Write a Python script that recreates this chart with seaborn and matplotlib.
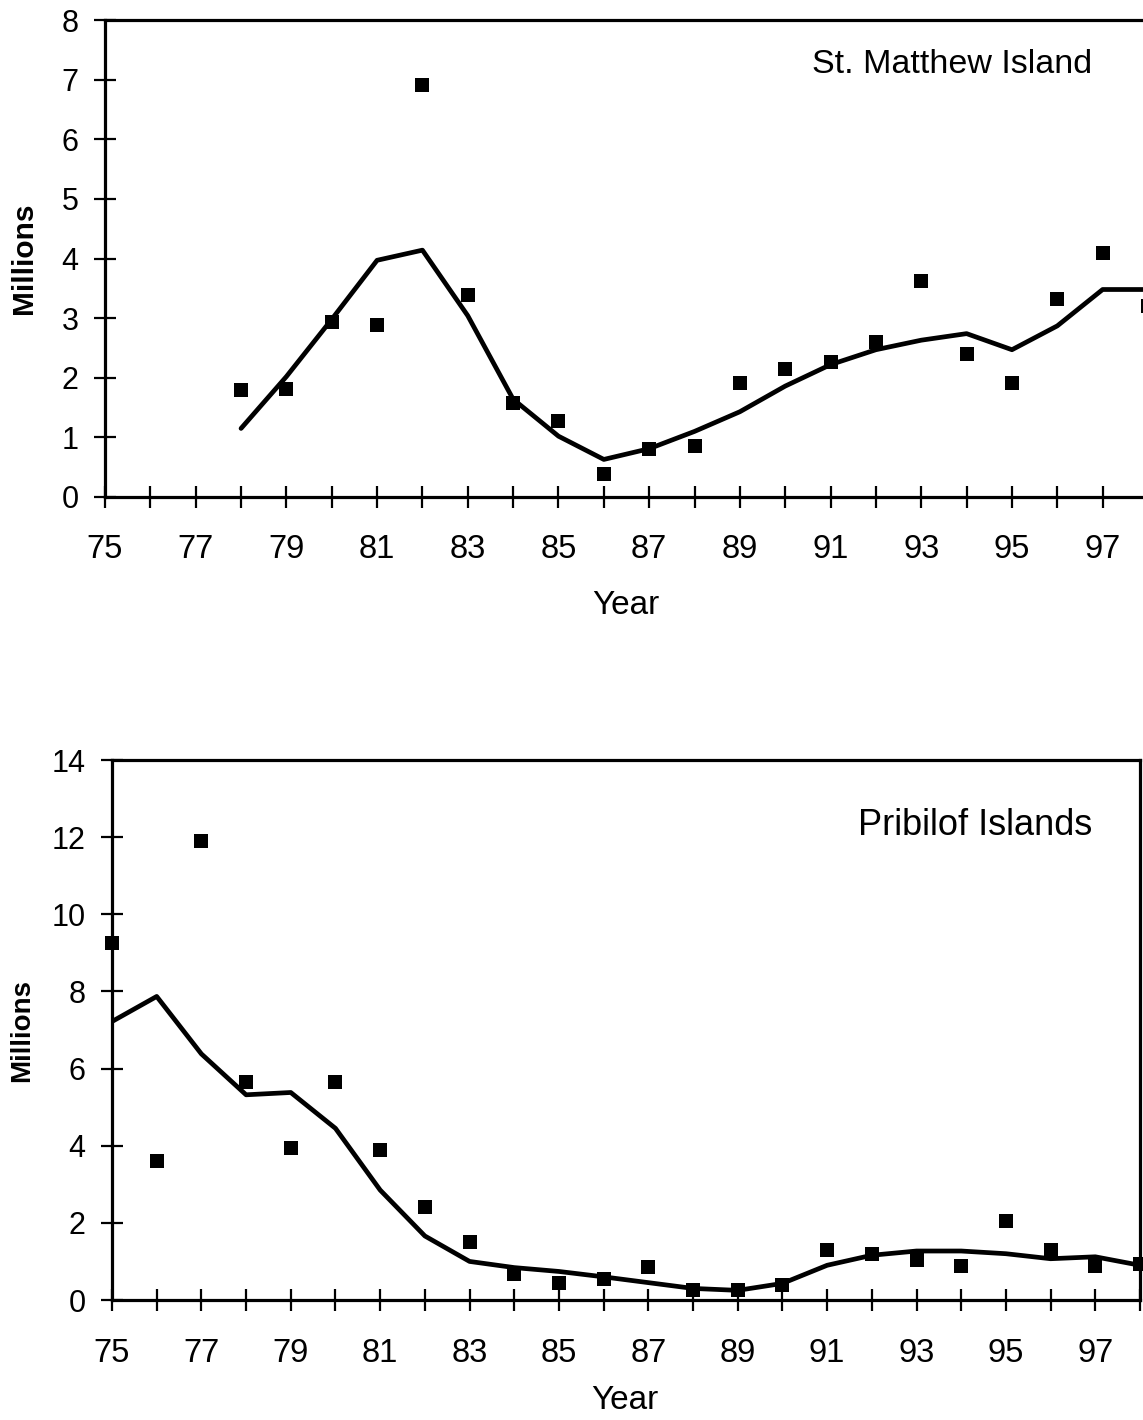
import matplotlib
matplotlib.use("Agg")
import matplotlib.pyplot as plt
import seaborn as sns
import pandas as pd
from matplotlib.ticker import MultipleLocator, FixedLocator, FixedFormatter

sns.set_style("ticks")
plt.rcParams['font.family'] = ['Liberation Sans', 'DejaVu Sans']
plt.rcParams['text.color'] = 'black'
plt.rcParams['axes.labelcolor'] = 'black'
plt.rcParams['xtick.color'] = 'black'
plt.rcParams['ytick.color'] = 'black'

# ---- data ----
stm_years = [78, 79, 80, 81, 82, 83, 84, 85, 86, 87, 88, 89, 90, 91, 92, 93, 94, 95, 96, 97, 98]
stm_obs = [1.80, 1.81, 2.93, 2.88, 6.91, 3.39, 1.58, 1.28, 0.38, 0.81, 0.85, 1.92, 2.14, 2.27,
           2.60, 3.63, 2.40, 1.92, 3.32, 4.10, 3.20]
stm_fit = [1.15, 2.02, 2.98, 3.97, 4.14, 3.04, 1.64, 1.02, 0.63, 0.81, 1.10, 1.43, 1.86, 2.22,
           2.47, 2.63, 2.74, 2.47, 2.87, 3.48, 3.48]

prib_years = [75, 76, 77, 78, 79, 80, 81, 82, 83, 84, 85, 86, 87, 88, 89, 90, 91, 92, 93, 94,
              95, 96, 97, 98]
prib_obs = [9.25, 3.60, 11.9, 5.64, 3.95, 5.66, 3.90, 2.42, 1.50, 0.67, 0.44, 0.55, 0.86, 0.25,
            0.27, 0.38, 1.30, 1.20, 1.03, 0.88, 2.06, 1.30, 0.88, 0.93]
prib_fit = [7.22, 7.87, 6.38, 5.32, 5.38, 4.45, 2.85, 1.66, 1.00, 0.84, 0.74, 0.60, 0.45, 0.30,
            0.25, 0.43, 0.90, 1.16, 1.27, 1.27, 1.20, 1.07, 1.12, 0.90]

xtick_labels = ["75", "", "77", "", "79", "", "81", "", "83", "", "85", "", "87", "", "89", "",
                "91", "", "93", "", "95", "", "97", ""]
xtick_years = list(range(75, 99))

W, H = 1143, 1420
fig = plt.figure(figsize=(W / 100, H / 100), dpi=100)

ax1 = fig.add_axes([105 / W, 1 - 497 / H, (1148 - 105) / W, 477 / H])
ax2 = fig.add_axes([112 / W, 1 - 1300 / H, (1140 - 112) / W, 540 / H])

df1 = pd.DataFrame({"Year": stm_years, "obs": stm_obs, "fit": stm_fit})
df2 = pd.DataFrame({"Year": prib_years, "obs": prib_obs, "fit": prib_fit})

for ax, df, ymax, ystep, ylsize in [(ax1, df1, 8, 1, 21.5), (ax2, df2, 14, 2, 20)]:
    sns.lineplot(data=df, x="Year", y="fit", ax=ax, color="black", linewidth=3.4)
    sns.scatterplot(data=df, x="Year", y="obs", ax=ax, color="black", marker="s", s=90,
                    linewidth=0, clip_on=False, zorder=5)
    ax.set_xlim(75, 98)
    ax.set_ylim(0, ymax)
    ax.xaxis.set_major_locator(FixedLocator(xtick_years))
    ax.xaxis.set_major_formatter(FixedFormatter(xtick_labels))
    ax.yaxis.set_major_locator(MultipleLocator(ystep))
    ax.tick_params(axis="x", direction="inout", length=16, width=1.6, labelsize=23.5, pad=19,
                   colors="black")
    ax.tick_params(axis="y", direction="inout", length=16, width=1.6, labelsize=22, pad=11,
                   colors="black")
    for sp in ax.spines.values():
        sp.set_linewidth(2.3)
        sp.set_color("black")
        sp.set_visible(True)
    ax.set_xlabel("Year", fontsize=24, color="black")
    ax.set_ylabel("Millions", fontsize=ylsize, fontweight="bold", color="black")

ax1.xaxis.set_label_coords(0.4995, -0.195)
ax1.yaxis.set_label_coords(-0.064, 0.5)
ax2.xaxis.set_label_coords(0.499, -0.157)
ax2.yaxis.set_label_coords(-0.075, 0.5)

ax1.text(0.812, 0.906, "St. Matthew Island", transform=ax1.transAxes, ha="center", va="center",
         fontsize=24.5, color="black")
ax2.text(0.840, 0.878, "Pribilof Islands", transform=ax2.transAxes, ha="center", va="center",
         fontsize=26, color="black")

fig.savefig("out.png", dpi=100, facecolor="white")
